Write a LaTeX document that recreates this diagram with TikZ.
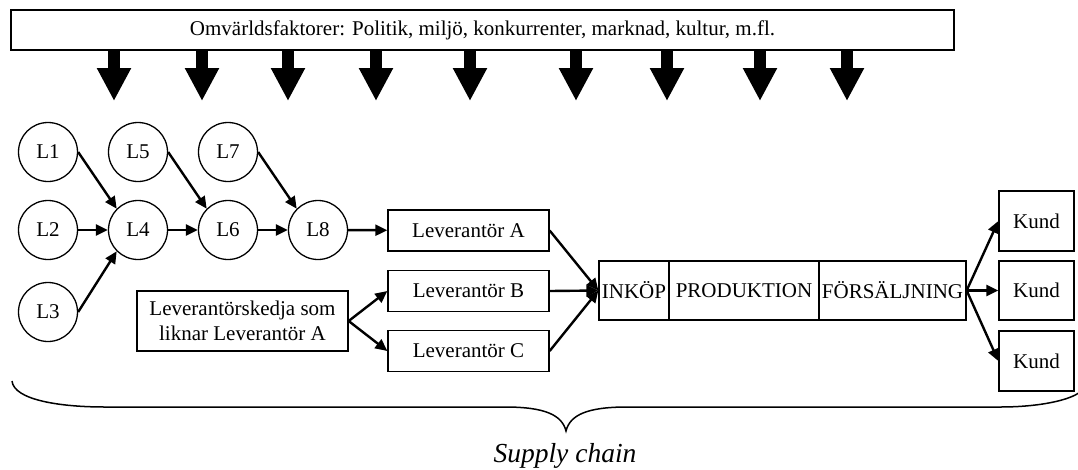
\documentclass[tikz,border=0pt]{standalone}
\usepackage{fontspec}
\setmainfont{Liberation Serif}
\usetikzlibrary{arrows.meta}
\begin{document}
\begin{tikzpicture}[x=1pt,y=-1pt,
  every node/.style={font=\fontsize{21}{24.5}\selectfont, inner sep=0pt},
  box/.style={draw, line width=1.3pt, align=center},
  circ/.style={draw, circle, line width=1.3pt, minimum size=59pt},
  link/.style={line width=2.4pt, -{Triangle[length=12pt,width=11pt]}},
  fat/.style={line width=12pt, -{Triangle[length=33pt,width=32pt]}},
  brace/.style={line width=1.5pt}
]
\useasboundingbox (0,0) rectangle (1078,469);

% environment factors
\node[box, minimum width=943pt, minimum height=40pt] (top) at (482.5,30)
  {Omvärldsfaktorer: Politik, miljö, konkurrenter, marknad, kultur, m.fl.};
\foreach \x in {114,202,288,376,470,576,667,760,847}
  \draw[fat] (top.south -| \x,0) -- (\x,101);

% supplier network
\node[circ] (L1) at (48,152) {L1};
\node[circ] (L2) at (48,230) {L2};
\node[circ] (L3) at (48,312) {L3};
\node[circ] (L4) at (138,230) {L4};
\node[circ] (L5) at (138,152) {L5};
\node[circ] (L6) at (228,230) {L6};
\node[circ] (L7) at (228,152) {L7};
\node[circ] (L8) at (318,230) {L8};

\draw[link] (L1.east) -- (L4.135);
\draw[link] (L2) -- (L4);
\draw[link] (L3.east) -- (L4.225);
\draw[link] (L4) -- (L6);
\draw[link] (L5.east) -- (L6.135);
\draw[link] (L6) -- (L8);
\draw[link] (L7.east) -- (L8.135);

% suppliers
\node[box, minimum width=161pt, minimum height=41pt] (A) at (468.5,230.5) {Leverantör A};
\node[box, minimum width=161pt, minimum height=41pt] (B) at (468.5,291) {Leverantör B};
\node[box, minimum width=161pt, minimum height=41pt] (C) at (468.5,351) {Leverantör C};
\node[box, minimum width=211pt, minimum height=60pt] (K) at (242.5,321)
  {Leverantörskedja som\\liknar Leverantör A};

\draw[link] (L8) -- (A);
\draw[link] (K.east) -- (B.west);
\draw[link] (K.east) -- (C.west);

% company
\node[box, minimum width=70pt, minimum height=59pt] (inkop) at (634,290.5) {INKÖP};
\node[box, minimum width=150pt, minimum height=59pt] (prod) at (744,290.5) {PRODUKTION};
\node[box, minimum width=147pt, minimum height=59pt] (fors) at (892.5,290.5) {FÖRSÄLJNING};

\draw[link] (A.east) -- (inkop.west);
\draw[link] (B.east) -- (inkop.west);
\draw[link] (C.east) -- (inkop.west);

% customers
\node[box, minimum width=75pt, minimum height=60pt] (k1) at (1036.5,221) {Kund};
\node[box, minimum width=75pt, minimum height=59pt] (k2) at (1036.5,290.5) {Kund};
\node[box, minimum width=75pt, minimum height=60pt] (k3) at (1036.5,361) {Kund};

\draw[link] (fors.east) -- (k1.west);
\draw[link] (fors.east) -- (k2.west);
\draw[link] (fors.east) -- (k3.west);

% brace
\coordinate (bl) at (12,381);
\coordinate (bt) at (566,431);
\coordinate (br) at (1080,392);
\draw[brace] (bl) .. controls (14,400) and (60,407) .. (105,407) -- (505,407)
  .. controls (545,407) and (562,415) .. (bt)
  .. controls (570,415) and (587,407) .. (627,407) -- (1000,407)
  .. controls (1040,407) and (1070,400) .. (br);
\node[font=\fontsize{27.5}{30}\selectfont\itshape] (sc) at (565,456) {Supply chain};
\end{tikzpicture}
\end{document}
